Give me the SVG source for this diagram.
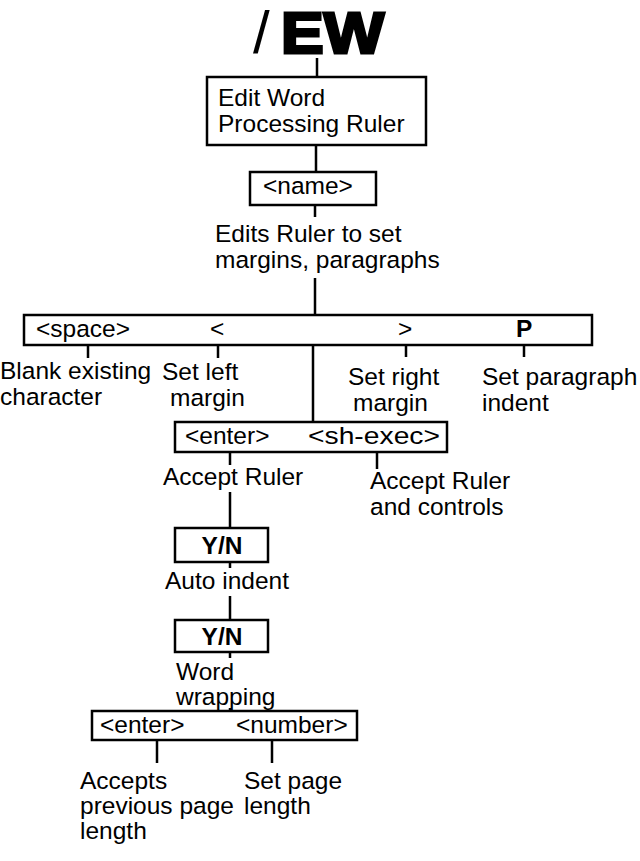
<svg xmlns="http://www.w3.org/2000/svg" width="640" height="861" viewBox="0 0 640 861">
<style>
text{font-family:"Liberation Sans",Arial,Helvetica,sans-serif;font-size:24.5px;fill:#000}
.b{font-weight:bold}
.box{fill:#fff;stroke:#000;stroke-width:2.5}
.ln{stroke:#000;stroke-width:2.5;fill:none}
</style>
<rect width="640" height="861" fill="#fff"/>
<g id="title">
<text x="253" y="53" style="font-size:60px">/</text>
<text x="281" y="53" class="b" style="font-size:58px;stroke:#000;stroke-width:3" textLength="103" lengthAdjust="spacingAndGlyphs">EW</text>
</g>
<g id="connectors">
<path class="ln" d="M317 58V77 M316 145V172 M315 205V217 M315 278V315 M88 345V358 M218 345V358 M406 345V357 M524 345V357 M313 345V422 M230 452V465 M377 452V469 M230 492V528 M230 562V568 M230 596V620 M230 652V658 M230 708V711 M157 740V763 M272 740V763"/>
</g>
<g id="n1">
<rect class="box" x="207" y="77" width="219" height="68"/>
<text x="218" y="106">Edit Word</text>
<text x="218" y="132">Processing Ruler</text>
</g>
<g id="n2">
<rect class="box" x="250" y="172" width="126" height="33"/>
<text x="263" y="194">&lt;name&gt;</text>
</g>
<g id="n3">
<text x="215" y="242">Edits Ruler to set</text>
<text x="215" y="268">margins, paragraphs</text>
</g>
<g id="n4">
<rect class="box" x="24" y="315" width="568" height="30"/>
<text x="36" y="337">&lt;space&gt;</text>
<text x="210" y="337">&lt;</text>
<text x="398" y="337">&gt;</text>
<text x="516" y="337" class="b">P</text>
</g>
<g id="n5">
<text x="0" y="379">Blank existing</text>
<text x="0" y="405">character</text>
</g>
<g id="n6">
<text x="162" y="380">Set left</text>
<text x="170" y="406">margin</text>
</g>
<g id="n7">
<text x="348" y="385">Set right</text>
<text x="353" y="411">margin</text>
</g>
<g id="n8">
<text x="482" y="385">Set paragraph</text>
<text x="482" y="411">indent</text>
</g>
<g id="n9">
<rect class="box" x="175" y="422" width="272" height="30"/>
<text x="185" y="444">&lt;enter&gt;</text>
<text x="308" y="444" textLength="132" lengthAdjust="spacingAndGlyphs">&lt;sh-exec&gt;</text>
</g>
<g id="n10">
<text x="163" y="485">Accept Ruler</text>
</g>
<g id="n11">
<text x="370" y="489">Accept Ruler</text>
<text x="370" y="515">and controls</text>
</g>
<g id="n12">
<rect class="box" x="175" y="528" width="93" height="34"/>
<text x="222" y="554" class="b" text-anchor="middle">Y/N</text>
</g>
<g id="n13">
<text x="165" y="589">Auto indent</text>
</g>
<g id="n14">
<rect class="box" x="175" y="620" width="93" height="32"/>
<text x="222" y="645" class="b" text-anchor="middle">Y/N</text>
</g>
<g id="n15">
<text x="176" y="680">Word</text>
<text x="176" y="705">wrapping</text>
</g>
<g id="n16">
<rect class="box" x="92" y="711" width="265" height="29"/>
<text x="100" y="733">&lt;enter&gt;</text>
<text x="236" y="733">&lt;number&gt;</text>
</g>
<g id="n17">
<text x="80" y="789">Accepts</text>
<text x="80" y="814">previous page</text>
<text x="80" y="839">length</text>
</g>
<g id="n18">
<text x="244" y="789">Set page</text>
<text x="244" y="814">length</text>
</g>
</svg>
